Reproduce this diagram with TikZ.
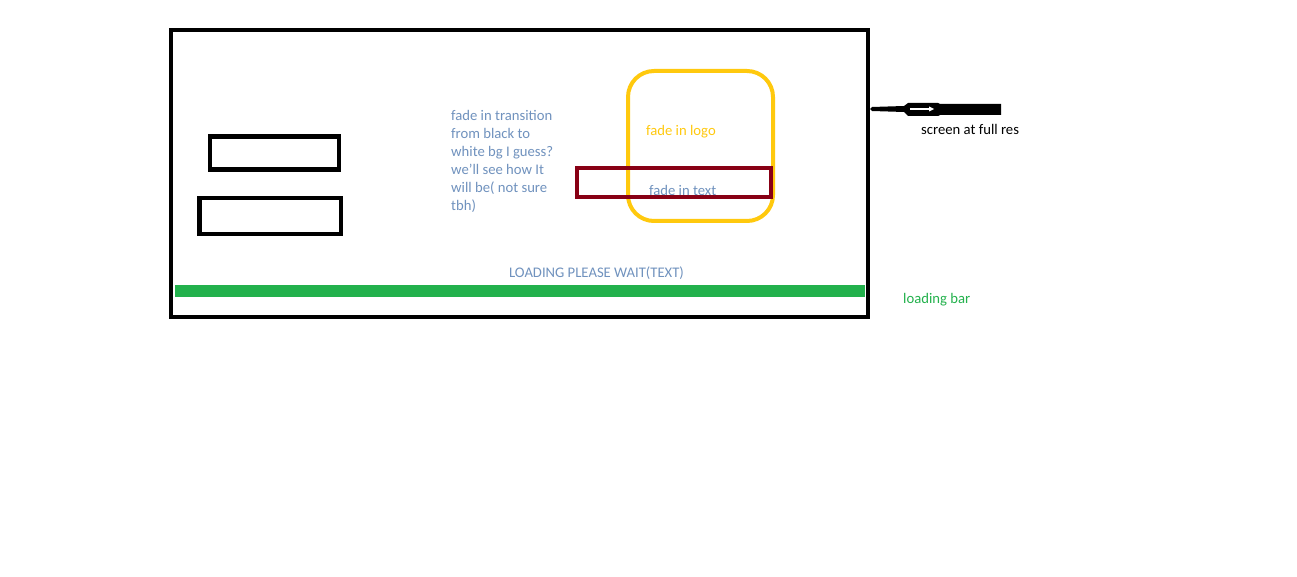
\documentclass[tikz,border=0pt]{standalone}
\usepackage{fontspec}
\setmainfont{Carlito}
\definecolor{bluegray}{HTML}{7092BE}
\definecolor{paintyellow}{HTML}{FFC90E}
\definecolor{darkred}{HTML}{880015}
\definecolor{paintgreen}{HTML}{22B14C}
\begin{document}
\begin{tikzpicture}[x=1pt,y=-1pt,
  lbl/.style={inner sep=0pt,font=\fontsize{14.67}{18}\selectfont},
  blackbox/.style={draw=black,line width=4.5pt}]
\useasboundingbox[fill=white] (0,0) rectangle (1297,577);
% main screen frame
\draw[line width=4pt] (171,30) rectangle (868,317);
\coordinate (frameright) at (870,109);
% left boxes
\node[blackbox,minimum width=129pt,minimum height=33pt,inner sep=0pt] (box1) at (274.5,153) {};
\node[blackbox,minimum width=141.5pt,minimum height=36pt,inner sep=0pt] (box2) at (270,216) {};
% logo rounded rect
\draw[paintyellow,line width=4pt,rounded corners=26pt] (628,71) rectangle (773,221);
% text rect
\draw[darkred,line width=4pt] (577,168) rectangle (771,197);
% green loading bar
\fill[paintgreen] (175,285) rectangle (865,297);
% texts
\node[lbl,bluegray,anchor=north west,align=left] (fadetext) at (451,110)
  {fade in transition\\from black to\\white bg I guess?\\we'll see how It\\will be( not sure\\tbh)};
\node[lbl,paintyellow,anchor=west] (logo) at (646,132) {fade in logo};
\node[lbl,bluegray,anchor=west] (ftext) at (649,190) {fade in text};
\node[lbl,bluegray] (loading) at (596.5,273) {LOADING PLEASE WAIT(TEXT)};
\node[lbl,paintgreen,anchor=west] (lbar) at (903,300) {loading bar};
\node[lbl,black,anchor=west] (screen) at (921,129) {screen at full res};
% arrow
\coordinate (arrtail) at (1001,109);
\fill[black] (frameright) -- (872,107) -- (904,106) -- (908,103) -- (938,103) -- (940,104) -- (1001,104) -- (1001,115) -- (940,115) -- (938,116) -- (908,116) -- (904,112) -- (872,111) -- cycle;
\draw[white,line width=1.2pt] (910,109) -- (931,109);
\fill[white] (929,106.5) -- (934,109) -- (929,111.5) -- cycle;
\end{tikzpicture}
\end{document}
